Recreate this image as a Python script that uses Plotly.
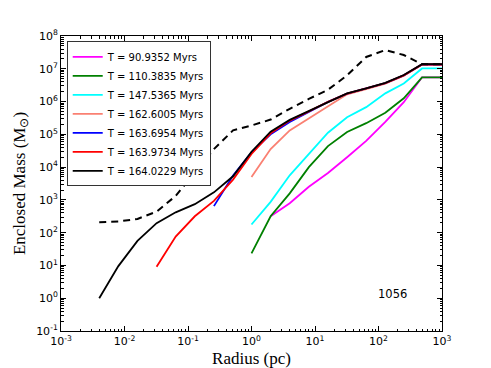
import plotly.graph_objects as go

# radius sample points (pc)
radius = [0.004, 0.008, 0.016, 0.032, 0.064, 0.128, 0.256, 0.512, 1.0, 2.0,
          4.0, 8.0, 16.0, 32.0, 64.0, 128.0, 250.0, 485.0, 1000.0]

# log10 of enclosed mass, per snapshot (None = no data at that radius)
logm_90 = [None] * 9 + [2.50, 2.90, 3.40, 3.82, 4.30, 4.80, 5.38, 5.98, 6.74, 6.74]
logm_110 = [None] * 8 + [1.37, 2.50, 3.20, 4.00, 4.64, 5.07, 5.34, 5.66, 6.10, 6.74, 6.74]
logm_147 = [None] * 8 + [2.25, 2.94, 3.75, 4.40, 5.05, 5.52, 5.83, 6.25, 6.55, 7.01, 7.01]
logm_1626 = [None] * 8 + [3.70, 4.55, 5.12, 5.48, 5.85, 6.22, 6.38, 6.55, 6.79, 7.13, 7.13]
logm_1637 = [None] * 6 + [2.81, 3.74, 4.45, 5.00, 5.38, 5.68, 5.99, 6.24, 6.39, 6.56, 6.80, 7.13, 7.13]
logm_1639 = [None] * 3 + [0.96, 1.88, 2.50, 2.97, 3.62, 4.40, 5.03, 5.42, 5.70, 5.99, 6.24, 6.39, 6.56, 6.80, 7.13, 7.13]
logm_1640 = [0.00, 0.98, 1.75, 2.29, 2.62, 2.87, 3.23, 3.72, 4.47, 5.08, 5.44, 5.71, 6.00, 6.25, 6.40, 6.57, 6.81, 7.14, 7.14]
logm_dashed = [2.32, 2.34, 2.42, 2.64, 3.12, 3.82, 4.55, 5.12, 5.27, 5.45, 5.78, 6.08, 6.36, 6.80, 7.36, 7.57, 7.42, 7.14, 7.14]

labels = ['T = 90.9352 Myrs', 'T = 110.3835 Myrs', 'T = 147.5365 Myrs', 'T = 162.6005 Myrs',
          'T = 163.6954 Myrs', 'T = 163.9734 Myrs', 'T = 164.0229 Myrs']
colors = ['#ff00ff', '#008000', '#00ffff', '#fa8072', '#0000ff', '#ff0000', '#000000']
series = [logm_90, logm_110, logm_147, logm_1626, logm_1637, logm_1639, logm_1640]

# decade ticks
x_exps = [-3, -2, -1, 0, 1, 2, 3]
y_exps = [-1, 0, 1, 2, 3, 4, 5, 6, 7, 8]


def to_mass(vals):
    return [None if v is None else 10 ** v for v in vals]


def pow_labels(exps):
    return ['10<sup>%d</sup>' % e for e in exps]


fig = go.Figure()
for name, col, vals in zip(labels, colors, series):
    fig.add_trace(go.Scatter(x=radius, y=to_mass(vals), mode='lines', name=name,
                             line=dict(color=col, width=1.8), connectgaps=False))

fig.add_trace(go.Scatter(x=radius, y=to_mass(logm_dashed), mode='lines', showlegend=False,
                         line=dict(color='black', width=2, dash='7px,5px')))

axis_common = dict(type='log', showline=True, linecolor='black', linewidth=1, mirror='allticks',
                   ticks='inside', ticklen=5, tickcolor='black', showgrid=False, zeroline=False,
                   automargin=False,
                   tickfont=dict(family='DejaVu Sans', size=11, color='black'),
                   minor=dict(ticks='inside', ticklen=2.5, tickcolor='black', dtick='D1', showgrid=False))

fig.update_xaxes(range=[-3, 3], tickvals=[10 ** e for e in x_exps], ticktext=pow_labels(x_exps),
                 title=dict(text='Radius (pc)', standoff=5,
                            font=dict(family='Liberation Serif', size=17, color='black')), **axis_common)
fig.update_yaxes(range=[-1, 8], tickvals=[10 ** e for e in y_exps], ticktext=pow_labels(y_exps),
                 title=dict(text='Enclosed Mass (M<sub>⊙</sub>)', standoff=6,
                            font=dict(family='Liberation Serif', size=17, color='black')), **axis_common)

fig.add_annotation(text='1056', xref='paper', yref='paper', x=0.869, y=0.125,
                   xanchor='center', yanchor='middle', showarrow=False,
                   font=dict(family='DejaVu Sans', size=11.5, color='black'))

# page body keeps an 8px margin, so the figure is sized/offset to compensate
fig.update_layout(
    width=483, height=360,
    margin=dict(l=53, r=49, t=28, b=37),
    paper_bgcolor='white', plot_bgcolor='white',
    legend=dict(x=0.015, y=0.982, xanchor='left', yanchor='top', bgcolor='white',
                bordercolor='#333333', borderwidth=1, tracegroupgap=0,
                font=dict(family='DejaVu Sans', size=10, color='black')),
    showlegend=True,
)

fig.write_html("out.html")
